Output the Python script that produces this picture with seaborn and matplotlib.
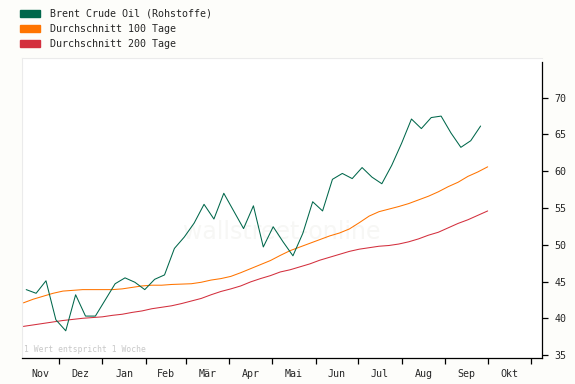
import pandas as pd
import matplotlib.pyplot as plt
from matplotlib.patches import Rectangle
import seaborn as sns

# Brent weekly closes (1 value = 1 week)
brent_start = "2020-11-08"
brent = [43.9, 43.4, 45.1, 39.8, 38.3, 43.2, 40.3, 40.3, 42.5, 44.7,
         45.5, 44.9, 43.9, 45.3, 45.9, 49.5, 51.05, 52.95, 55.5, 53.5,
         57.0, 54.6, 52.2, 55.3, 49.7, 52.45, 50.4, 48.5, 51.55, 55.85,
         54.6, 58.9, 59.7, 59.0, 60.5, 59.2, 58.3, 60.8, 63.8, 67.1,
         65.8, 67.3, 67.5, 65.2, 63.25, 64.15, 66.15]

# moving averages
ma_start = "2020-11-06"
ma100 = [42.1, 42.6, 43.0, 43.4, 43.7, 43.8, 43.9, 43.9, 43.9, 43.9,
         44.0, 44.2, 44.4, 44.5, 44.5, 44.6, 44.65, 44.7, 44.9, 45.2,
         45.4, 45.7, 46.2, 46.75, 47.3, 47.85, 48.55, 49.2, 49.7, 50.2,
         50.7, 51.2, 51.6, 52.15, 53.0, 53.9, 54.5, 54.85, 55.2, 55.6,
         56.1, 56.6, 57.2, 57.9, 58.5, 59.3, 59.9, 60.6]
ma200 = [38.9, 39.1, 39.3, 39.5, 39.7, 39.85, 40.0, 40.1, 40.2, 40.4,
         40.55, 40.8, 41.0, 41.3, 41.5, 41.7, 42.0, 42.35, 42.7, 43.2,
         43.65, 44.0, 44.4, 44.95, 45.4, 45.8, 46.3, 46.6, 47.0, 47.4,
         47.9, 48.3, 48.7, 49.1, 49.4, 49.6, 49.8, 49.9, 50.1, 50.4,
         50.8, 51.3, 51.7, 52.3, 52.9, 53.4, 54.0, 54.6]

month_labels = ["Nov", "Dez", "Jan", "Feb", "Mär", "Apr", "Mai", "Jun",
                "Jul", "Aug", "Sep", "Okt"]
yticks = [35, 40, 45, 50, 55, 60, 65, 70]
legend_labels = ["Brent Crude Oil (Rohstoffe)", "Durchschnitt 100 Tage",
                 "Durchschnitt 200 Tage"]

GREEN = "#00674b"
ORANGE = "#ff7400"
RED = "#d32f3d"
BG = "#fdfdfa"

df_b = pd.DataFrame({"Datum": pd.date_range(brent_start, periods=len(brent), freq="7D"),
                     "Kurs": brent})
df_ma = pd.DataFrame({"Datum": pd.date_range(ma_start, periods=len(ma100), freq="7D"),
                      "ma100": ma100, "ma200": ma200})

sns.set_style("white")
plt.rcParams["font.family"] = ["DejaVu Sans Mono"]

fig = plt.figure(figsize=(5.75, 3.84), dpi=100, facecolor=BG)
ax = fig.add_axes([22 / 575, 1 - 358 / 384, 520 / 575, 300 / 384])
ax.set_facecolor("white")

sns.lineplot(data=df_ma, x="Datum", y="ma200", color=RED, lw=0.75, ax=ax)
sns.lineplot(data=df_ma, x="Datum", y="ma100", color=ORANGE, lw=0.75, ax=ax)
sns.lineplot(data=df_b, x="Datum", y="Kurs", color=GREEN, lw=0.75, ax=ax)

x0 = pd.Timestamp("2020-11-05")
x1 = pd.Timestamp("2021-11-08 12:00")
ax.set_xlim(x0, x1)
ax.set_ylim(34.6, 75.4)
ax.set_xlabel("")
ax.set_ylabel("")

# axes: right + bottom black, left/top light frame
for s in ["left", "top"]:
    ax.spines[s].set_color("#ebebeb")
    ax.spines[s].set_linewidth(0.8)
for s in ["right", "bottom"]:
    ax.spines[s].set_color("black")
    ax.spines[s].set_linewidth(0.9)
ax.spines["right"].set_bounds(34.6, 74.9)

ax.yaxis.tick_right()
ax.set_yticks(yticks)
ax.tick_params(axis="y", which="major", direction="out", length=4, width=0.9,
               color="black", labelsize=7.2, pad=5, right=True, left=False)

# month boundaries as ticks, labels centred in between
bounds = list(pd.date_range("2020-12-01", "2021-11-01", freq="MS"))
ax.set_xticks(bounds)
ax.set_xticklabels([])
edges = [x0] + bounds
mids = [edges[i] + (edges[i + 1] - edges[i]) / 2 for i in range(len(month_labels))]
ax.set_xticks(mids, minor=True)
ax.set_xticklabels(month_labels, minor=True)
ax.tick_params(axis="x", which="major", direction="out", length=4, width=0.9,
               color="black", bottom=True)
ax.tick_params(axis="x", which="minor", length=0, labelsize=7.2, pad=8)

ax.text(0.003, 0.012, "1 Wert entspricht 1 Woche", transform=ax.transAxes,
        fontsize=5.8, color="#c8c8c8", ha="left", va="bottom")
ax.text(0.5, 0.42, "wallstreet-online", transform=ax.transAxes,
        fontsize=17, color="#f7f7f5", ha="center", va="center",
        family="DejaVu Sans", zorder=0)

# legend above the plot
for i, (lab, col) in enumerate(zip(legend_labels, [GREEN, ORANGE, RED])):
    yc = 13.7 + 15 * i
    fig.patches.append(Rectangle((20 / 575, 1 - (yc + 3) / 384), 20 / 575, 6.5 / 384,
                                 transform=fig.transFigure, color=col))
    fig.text(50 / 575, 1 - yc / 384, lab, fontsize=7.2, ha="left", va="center")

plt.savefig("out.png", dpi=100, facecolor=BG)
